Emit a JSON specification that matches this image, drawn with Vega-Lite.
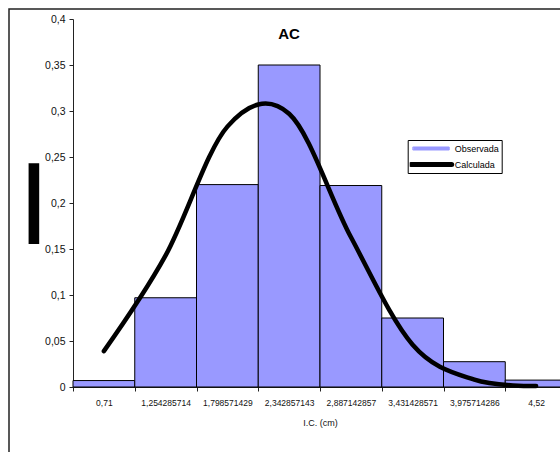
{
  "$schema": "https://vega.github.io/schema/vega-lite/v6.json",
  "width": 560,
  "height": 450,
  "autosize": {"type": "none"},
  "padding": {"left": 9, "top": 9, "right": 0, "bottom": 0},
  "background": "white",
  "title": {"text": "AC", "font": "Liberation Sans", "fontSize": 15, "fontWeight": "bold", "color": "black", "anchor": "middle", "frame": "group", "baseline": "alphabetic", "offset": -45},
  "config": {"view": {"stroke": "#222222", "strokeWidth": 1.5}, "font": "Liberation Sans"},
  "data": {"values": [
    {"ic": "0,71", "obs": 0.007, "calc": 0.039},
    {"ic": "1,254285714", "obs": 0.097, "calc": 0.143},
    {"ic": "1,798571429", "obs": 0.22, "calc": 0.283},
    {"ic": "2,342857143", "obs": 0.35, "calc": 0.297},
    {"ic": "2,887142857", "obs": 0.219, "calc": 0.163},
    {"ic": "3,431428571", "obs": 0.075, "calc": 0.046},
    {"ic": "3,975714286", "obs": 0.0275, "calc": 0.008},
    {"ic": "4,52", "obs": 0.0075, "calc": 0.001}
  ]},
  "encoding": {
    "x": {"field": "ic", "type": "nominal", "sort": null,
      "scale": {"range": [64, 558], "paddingInner": 0, "paddingOuter": 0},
      "axis": {"orient": "bottom", "offset": -72, "tickBand": "extent", "labelAngle": 0, "labelOverlap": false,
        "labelFont": "Liberation Sans", "labelFontSize": 8.5, "labelColor": "#111111", "labelPadding": 7,
        "tickSize": 4, "tickColor": "#222222", "domainColor": "#222222",
        "title": "I.C. (cm)", "titleFont": "Liberation Sans", "titleFontSize": 9, "titleFontWeight": "normal", "titleColor": "#111111", "titlePadding": 12}}
  },
  "layer": [
    {
      "mark": {"type": "bar", "stroke": "black", "strokeWidth": 1, "opacity": 1},
      "encoding": {
        "y": {"field": "obs", "type": "quantitative", "title": "┃",
          "scale": {"domain": [0, 0.4], "range": [378, 10], "nice": false},
          "axis": {"orient": "left", "offset": -64, "values": [0, 0.05, 0.1, 0.15, 0.2, 0.25, 0.3, 0.35, 0.4],
            "labelExpr": "replace(format(datum.value, '~g'), '.', ',')", "grid": false,
            "labelFont": "Liberation Sans", "labelFontSize": 10.5, "labelColor": "#111111", "labelPadding": 4,
            "tickSize": 4, "tickColor": "#222222", "domainColor": "#222222",
            "titleFont": "DejaVu Sans", "titleFontSize": 68, "titleFontWeight": "normal", "titleColor": "black",
            "titleAngle": 0, "titleAlign": "center", "titleBaseline": "middle", "titleX": -39.5, "titleY": 197}},
        "color": {"datum": "Observada", "type": "nominal",
          "scale": {"domain": ["Observada", "Calculada"], "range": ["#9999FF", "black"]},
          "legend": {"title": null, "orient": "none", "legendX": 398.7, "legendY": 131,
            "strokeColor": "black", "fillColor": "white", "padding": 2, "rowPadding": 3, "clipHeight": 13,
            "symbolSize": 49, "symbolOffset": 17, "labelOffset": 19,
            "labelFont": "Liberation Sans", "labelFontSize": 9, "labelColor": "black",
            "encode": {"symbols": {"update": {
              "shape": {"signal": "datum.value === 'Observada' ? 'M-5.14,-0.43H5.14V0.43H-5.14Z' : 'M-5.85,0H5.85'"},
              "fill": {"signal": "datum.value === 'Observada' ? '#9999FF' : 'transparent'"},
              "stroke": {"value": "black"},
              "strokeWidth": {"signal": "datum.value === 'Observada' ? 1 : 5"},
              "strokeCap": {"value": "round"},
              "opacity": {"value": 1}, "fillOpacity": {"value": 1}, "strokeOpacity": {"value": 1}}}}}}
      }
    },
    {
      "mark": {"type": "line", "interpolate": "cardinal", "strokeWidth": 4.5, "strokeCap": "round"},
      "encoding": {
        "y": {"field": "calc", "type": "quantitative", "title": "┃",
          "scale": {"domain": [0, 0.4], "range": [378, 10], "nice": false},
          "axis": {"orient": "left", "offset": -64, "values": [0, 0.05, 0.1, 0.15, 0.2, 0.25, 0.3, 0.35, 0.4],
            "labelExpr": "replace(format(datum.value, '~g'), '.', ',')", "grid": false,
            "labelFont": "Liberation Sans", "labelFontSize": 10.5, "labelColor": "#111111", "labelPadding": 4,
            "tickSize": 4, "tickColor": "#222222", "domainColor": "#222222",
            "titleFont": "DejaVu Sans", "titleFontSize": 68, "titleFontWeight": "normal", "titleColor": "black",
            "titleAngle": 0, "titleAlign": "center", "titleBaseline": "middle", "titleX": -39.5, "titleY": 197}},
        "color": {"datum": "Calculada", "type": "nominal",
          "legend": {"title": null, "orient": "none", "legendX": 398.7, "legendY": 131,
            "strokeColor": "black", "fillColor": "white", "padding": 2, "rowPadding": 3, "clipHeight": 13,
            "symbolSize": 49, "symbolOffset": 17, "labelOffset": 19,
            "labelFont": "Liberation Sans", "labelFontSize": 9, "labelColor": "black",
            "encode": {"symbols": {"update": {
              "shape": {"signal": "datum.value === 'Observada' ? 'M-5.14,-0.43H5.14V0.43H-5.14Z' : 'M-5.85,0H5.85'"},
              "fill": {"signal": "datum.value === 'Observada' ? '#9999FF' : 'transparent'"},
              "stroke": {"value": "black"},
              "strokeWidth": {"signal": "datum.value === 'Observada' ? 1 : 5"},
              "strokeCap": {"value": "round"},
              "opacity": {"value": 1}, "fillOpacity": {"value": 1}, "strokeOpacity": {"value": 1}}}}}}
      }
    }
  ]
}
